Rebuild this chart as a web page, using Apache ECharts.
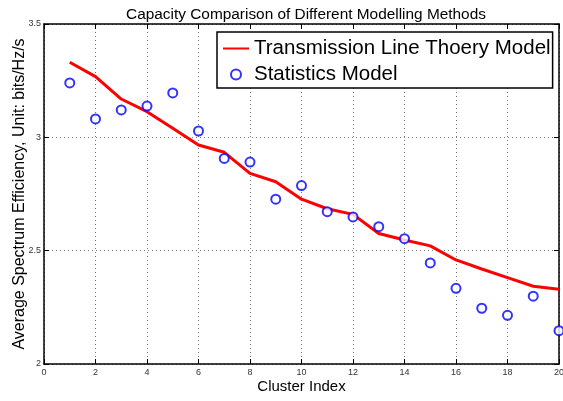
<!DOCTYPE html>
<html>
<head>
<meta charset="utf-8">
<script src="https://cdn.jsdelivr.net/npm/echarts@6/dist/echarts.min.js"></script>
<style>
html, body { margin: 0; padding: 0; background: #fff; }
#chart { width: 563px; height: 401px; }
</style>
</head>
<body>
<div id="chart"></div>
<script>
// cluster index 1..20
var clusters = [1, 2, 3, 4, 5, 6, 7, 8, 9, 10, 11, 12, 13, 14, 15, 16, 17, 18, 19, 20];
// transmission line theory model (red line)
var tlModel = [3.331, 3.268, 3.169, 3.113, 3.040, 2.966, 2.934, 2.841, 2.804, 2.727,
	2.685, 2.660, 2.576, 2.547, 2.521, 2.459, 2.419, 2.381, 2.343, 2.330];
// statistics model (blue circles)
var statModel = [3.240, 3.081, 3.121, 3.138, 3.196, 3.028, 2.907, 2.891, 2.727, 2.787,
	2.672, 2.649, 2.606, 2.553, 2.446, 2.334, 2.246, 2.215, 2.299, 2.147];
var xTicks = [0, 2, 4, 6, 8, 10, 12, 14, 16, 18, 20];
var yTicks = ['2', '2.5', '3', '3.5'];

var font = 'Liberation Sans, Arial, Helvetica, sans-serif';

function pairs(xs, ys) {
	var out = [];
	for (var i = 0; i < xs.length; i++) out.push([xs[i], ys[i]]);
	return out;
}

var gridLine = { show: true, lineStyle: { color: '#777', type: [1, 3], width: 1 } };
var tickIn = { show: true, inside: true, length: 5, lineStyle: { color: '#000', width: 1 } };
var boxLine = { show: true, onZero: false, lineStyle: { color: '#000', width: 1.5 } };

var chart = echarts.init(document.getElementById('chart'));
chart.setOption({
	animation: false,
	backgroundColor: '#fff',
	title: {
		text: 'Capacity Comparison of Different Modelling Methods',
		left: 301, top: 2, textAlign: 'center',
		textStyle: { fontFamily: font, fontSize: 15.4, fontWeight: 'normal', color: '#000' }
	},
	legend: {
		left: 217, top: 32,
		orient: 'vertical',
		backgroundColor: '#fff',
		borderColor: '#000', borderWidth: 1.5, borderRadius: 0,
		padding: [6, 2, 3, 5],
		itemWidth: 26, itemHeight: 10, itemGap: 5,
		textStyle: { fontFamily: font, fontSize: 20.5, color: '#000' },
		data: [
			{ name: 'Transmission Line Thoery Model', itemStyle: { opacity: 0 } },
			{ name: 'Statistics Model', icon: 'emptyCircle' }
		]
	},
	grid: { left: 44, right: 4, top: 24, bottom: 37, outerBoundsMode: 'none' },
	xAxis: [{
		type: 'value', min: 0, max: 20, interval: 2,
		name: 'Cluster Index', nameLocation: 'middle', nameGap: 15, nameMoveOverlap: false,
		nameTextStyle: { fontFamily: font, fontSize: 15, color: '#000', verticalAlign: 'top' },
		axisLine: boxLine, axisTick: tickIn, splitLine: gridLine,
		axisLabel: { fontFamily: font, fontSize: 9, color: '#333', margin: 4,
			formatter: function (v) { return xTicks.indexOf(v) >= 0 ? String(v) : ''; } }
	}, {
		type: 'value', min: 0, max: 20, interval: 2, position: 'top',
		axisLine: boxLine, axisTick: tickIn, splitLine: { show: false }, axisLabel: { show: false }
	}],
	yAxis: [{
		type: 'value', min: 2, max: 3.5, interval: 0.5,
		name: 'Average Spectrum Efficiency, Unit: bits/Hz/s', nameLocation: 'middle', nameGap: 16,
		nameMoveOverlap: false,
		nameTextStyle: { fontFamily: font, fontSize: 16, color: '#000' },
		axisLine: boxLine, axisTick: tickIn, splitLine: gridLine,
		axisLabel: { fontFamily: font, fontSize: 9, color: '#333', margin: 3,
			formatter: function (v) { return yTicks[Math.round((v - 2) / 0.5)] || ''; } }
	}, {
		type: 'value', min: 2, max: 3.5, interval: 0.5, position: 'right',
		axisLine: boxLine, axisTick: tickIn, splitLine: { show: false }, axisLabel: { show: false }
	}],
	series: [{
		name: 'Transmission Line Thoery Model',
		type: 'line',
		data: pairs(clusters, tlModel),
		symbol: 'none',
		lineStyle: { color: '#ff0000', width: 3 },
		itemStyle: { color: '#ff0000' },
		z: 3
	}, {
		name: 'Statistics Model',
		type: 'scatter',
		data: pairs(clusters, statModel),
		symbol: 'emptyCircle',
		symbolSize: 9,
		itemStyle: { color: '#0000ff', borderColor: '#0000ff', borderWidth: 1.8 },
		z: 4
	}]
});
</script>
</body>
</html>
